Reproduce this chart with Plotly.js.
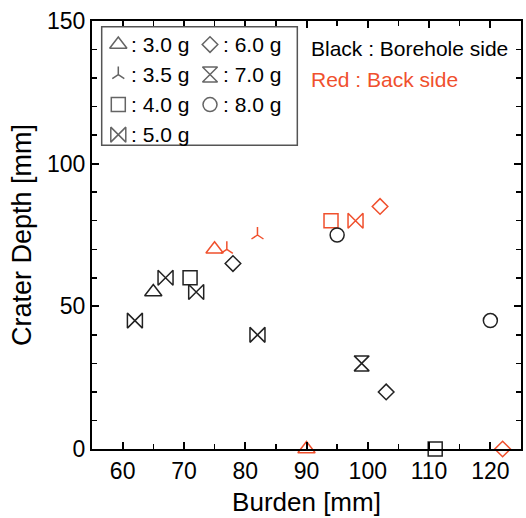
<!DOCTYPE html>
<html><head><meta charset="utf-8">
<script src="https://cdn.plot.ly/plotly-3.0.1.min.js"></script>
<style>html,body{margin:0;padding:0;background:#fff}#chart{width:526px;height:518px}</style>
</head><body><div id="chart"></div>
<script>
// Charge masses, marker symbols
const masses = ['3.0 g','3.5 g','4.0 g','5.0 g','6.0 g','7.0 g','8.0 g'];
const symbols = ['triangle-up-open','y-up','square-open','bowtie-open','diamond-open','hourglass-open','circle-open'];
const sizes = [15,10,14,15,12,15,14];

// Borehole side (black): burden [mm], crater depth [mm]
const boreX = [[65],[],[71,111],[62,67,72,82],[78,103],[99],[95,120]];
const boreY = [[55],[],[60,0],[45,60,55,40],[65,20],[30],[75,45]];
// Back side (red)
const backX = [[75,90],[77,82],[94],[98],[102,122],[],[]];
const backY = [[70,0],[70,75],[80],[80],[85,0],[],[]];

const BLACK = '#222222';
const RED = '#f0502d';
const FONT = 'Liberation Sans, Arial, sans-serif';

const traces = [];
masses.forEach((m, i) => {
  [[boreX[i], boreY[i], BLACK], [backX[i], backY[i], RED]].forEach(([xs, ys, c]) => {
    if (!xs.length) return;
    traces.push({
      type: 'scatter', mode: 'markers', x: xs, y: ys, name: m, showlegend: false,
      cliponaxis: false, hoverinfo: 'skip',
      marker: {symbol: symbols[i], size: sizes[i], color: c, line: {color: c, width: 1.5}}
    });
  });
});

// Custom legend: two columns (4 + 3 items) on an auxiliary axis pair
const legCol = masses.map((m, i) => i < 4 ? 0 : 1);
const legRow = masses.map((m, i) => i % 4);
traces.push({
  type: 'scatter', mode: 'markers', x: legCol, y: legRow, xaxis: 'x2', yaxis: 'y2',
  showlegend: false, hoverinfo: 'skip', cliponaxis: false,
  marker: {symbol: symbols, size: sizes, color: BLACK, line: {color: BLACK, width: 1.5}}
});

const annotations = masses.map((m, i) => ({
  xref: 'x2', yref: 'y2', x: legCol[i] + 0.12, y: legRow[i], text: ': ' + m,
  xanchor: 'left', yanchor: 'middle', showarrow: false,
  font: {family: FONT, size: 21, color: '#000'}
}));
annotations.push(
  {xref: 'paper', yref: 'paper', x: 0.506, y: 0.936, text: 'Black : Borehole side', xanchor: 'left', yanchor: 'middle',
   showarrow: false, font: {family: FONT, size: 21, color: '#000'}},
  {xref: 'paper', yref: 'paper', x: 0.506, y: 0.863, text: 'Red : Back side', xanchor: 'left', yanchor: 'middle',
   showarrow: false, font: {family: FONT, size: 21, color: RED}}
);

const axisCommon = {
  showline: true, linecolor: '#000', linewidth: 2, mirror: 'allticks',
  ticks: 'inside', ticklen: 7, tickwidth: 2, tickcolor: '#000',
  showgrid: false, zeroline: false,
  tickfont: {family: FONT, size: 23, color: '#000'}
};

const layout = {
  width: 526, height: 518,
  margin: {l: 92, r: 5, t: 21, b: 69},
  paper_bgcolor: '#fff', plot_bgcolor: '#fff',
  font: {family: FONT, color: '#000'},
  xaxis: Object.assign({}, axisCommon, {
    range: [55, 125], dtick: 10, tick0: 0,
    minor: {dtick: 5, ticks: 'inside', ticklen: 5, tickwidth: 1.5, tickcolor: '#000'},
    title: {text: 'Burden [mm]', font: {family: FONT, size: 26, color: '#000'}, standoff: 10}
  }),
  yaxis: Object.assign({}, axisCommon, {
    range: [0, 150], dtick: 50, tick0: 0,
    minor: {dtick: 10, ticks: 'inside', ticklen: 5, tickwidth: 1.5, tickcolor: '#000'},
    title: {text: 'Crater Depth [mm]', font: {family: FONT, size: 27, color: '#000'}, standoff: 8}
  }),
  xaxis2: {domain: [0.0226, 0.4786], range: [-0.181, 1.952], anchor: 'y2', visible: false, fixedrange: true},
  yaxis2: {domain: [0.7095, 0.9864], range: [3.356, -0.59], anchor: 'x2', visible: false, fixedrange: true},
  shapes: [{type: 'rect', xref: 'paper', yref: 'paper', x0: 0.0226, x1: 0.4786, y0: 0.7095, y1: 0.9864,
            line: {color: '#555', width: 1.5}, fillcolor: 'rgba(0,0,0,0)'}],
  annotations: annotations,
  showlegend: false
};

Plotly.newPlot('chart', traces, layout, {staticPlot: true, displayModeBar: false});
</script>
</body></html>
